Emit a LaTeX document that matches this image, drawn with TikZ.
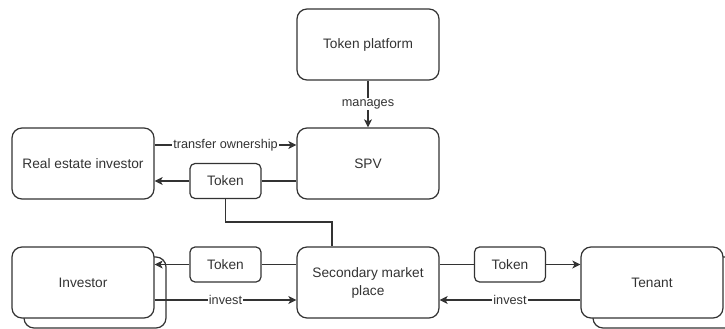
\documentclass[tikz,border=0pt]{standalone}
\usepackage{fontspec}
\setmainfont{Liberation Sans}
\usetikzlibrary{arrows.meta,calc}
\definecolor{ink}{HTML}{333333}
\begin{document}
\begin{tikzpicture}[x=1pt,y=-1pt,
  box/.style={draw=ink, line width=1.2pt, rounded corners=10pt, fill=white,
    minimum width=142pt, minimum height=71pt, inner sep=0pt, align=center,
    text=ink, font=\fontsize{13.7}{18}\selectfont},
  tokbox/.style={box, rounded corners=5pt, minimum width=71pt, minimum height=35pt},
  link/.style={draw=ink, line width=1.2pt},
  arr/.style={link, -{Stealth[length=8pt,width=8pt,inset=2pt]}},
  lbl/.style={fill=white, text=ink, inner sep=1pt, font=\fontsize{12.7}{15}\selectfont}]
\useasboundingbox (0,0) rectangle (725,329);
\clip (0,0) rectangle (725,329);

% stacked shapes: the back sheets first
\node[box] (invback) at (95,292.5) {};
\node[box] (tenback) at (664,292.5) {};

% boxes
\node[box] (platform) at (368,44.5) {Token platform};
\node[box] (spv) at (368,163.5) {SPV};
\node[box] (rei) at (83,163.5) {Real estate investor};
\node[box] (inv) at (83,282.5) {Investor};
\node[box] (smp) at (368,282.5) {Secondary market\\place};
\node[box] (ten) at (652,282.5) {Tenant};

% token boxes
\node[tokbox] (tok1) at (225.5,181) {Token};
\node[tokbox] (tok2) at (225.5,264.5) {Token};
\node[tokbox] (tok3) at (510,264.5) {Token};

% connectors
\draw[arr] (platform) -- node[lbl]{manages} (spv);
\draw[arr] ([yshift=18.5pt]rei.east) -- node[lbl]{transfer ownership} ([yshift=18.5pt]spv.west);
\draw[link] (tok1.east) -- (tok1.east -| spv.west);
\draw[arr] (tok1.west) -- (tok1.west -| rei.east);

\coordinate (bend) at (332,222);
\draw[link] (tok1.south) |- (bend) -- (bend |- smp.north);

\draw[link] (smp.west |- tok2) -- (tok2.east);
\draw[arr] (tok2.west) -- (tok2.west -| inv.east);
\draw[arr] ([yshift=-17.5pt]inv.east) -- node[lbl]{invest} ([yshift=-17.5pt]smp.west);

\draw[link] (smp.east |- tok3) -- (tok3.west);
\draw[arr] (tok3.east) -- (tok3.east -| ten.west);
\draw[arr] ([yshift=-17.5pt]ten.west) -- node[lbl]{invest} ([yshift=-17.5pt]smp.east);
\end{tikzpicture}
\end{document}
